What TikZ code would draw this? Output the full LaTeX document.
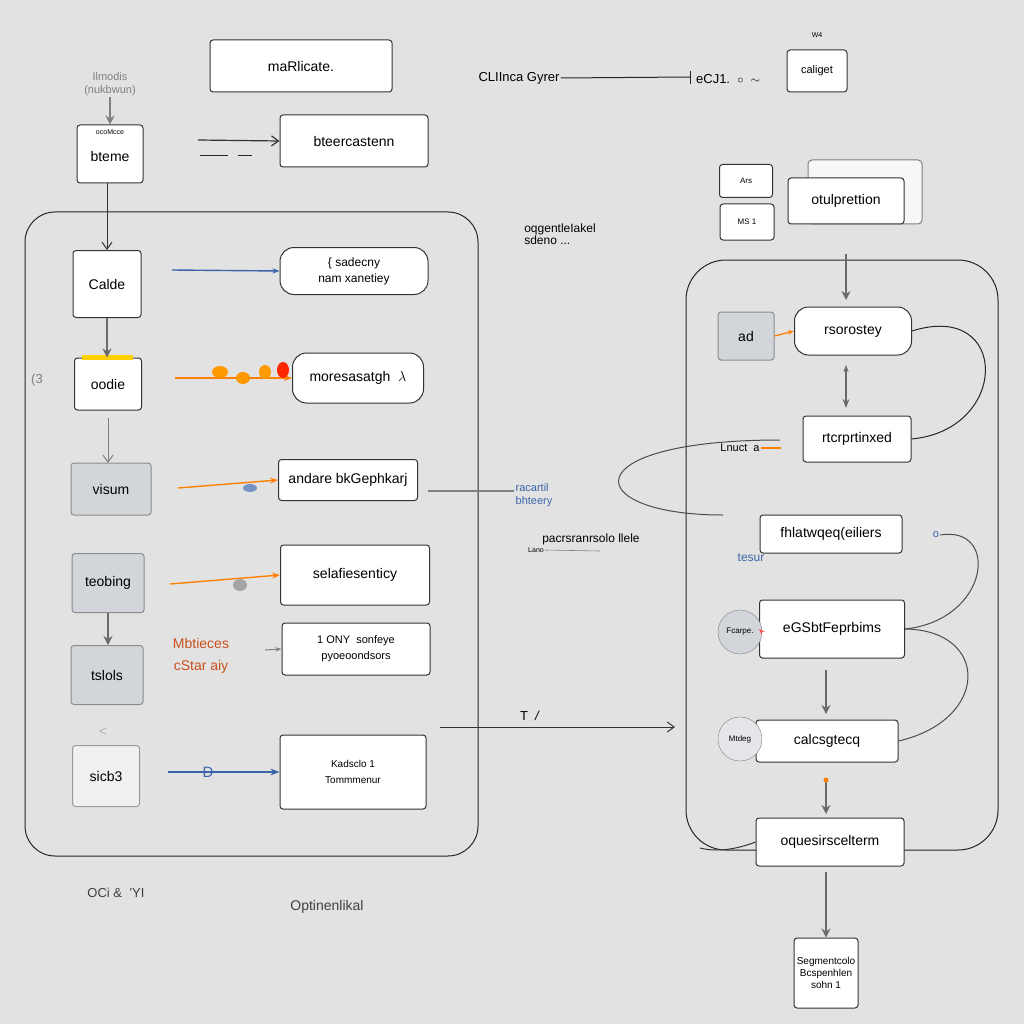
\documentclass[tikz,border=0pt]{standalone}
\usepackage{fontspec}
\setmainfont{Liberation Sans}
\usetikzlibrary{arrows.meta,shapes.geometric}
\definecolor{bg}{RGB}{226,226,226}
\definecolor{boxgray}{RGB}{210,214,219}
\definecolor{linegray}{RGB}{110,105,105}
\definecolor{blu}{RGB}{60,100,170}
\definecolor{orng}{RGB}{200,80,30}
\tikzset{
  box/.style={draw=black!80, fill=white, rounded corners=3pt, line width=1pt, font=\fontsize{14}{16}\selectfont, inner sep=2pt, align=center},
  pill/.style={box, rounded corners=14pt},
  gbox/.style={box, fill=boxgray, draw=black!45},
  arr/.style={-{Stealth[length=9pt,width=9pt]}, draw=linegray, line width=1.2pt},
  oarr/.style={-{Straight Barb[length=7pt,width=10pt]}, draw=black!80, line width=1pt},
  thin/.style={draw=black!85, line width=1pt},
  lbl/.style={font=\fontsize{13}{15}\selectfont, inner sep=1pt, align=center},
  slbl/.style={font=\fontsize{9}{11}\selectfont, inner sep=1pt, align=center},
}
\begin{document}
\begin{tikzpicture}[x=1pt,y=-1pt]
\fill[bg] (0,0) rectangle (1024,1024);
\useasboundingbox (0,0) rectangle (1024,1024);

% ---------- top left ----------
\node[slbl, text=gray, font=\fontsize{11}{13}\selectfont] (ilm) at (110,84) {Ilmodis\\(nukbwun)};
\node[box, minimum width=66, minimum height=58] (bteme) at (110,154) {};
\node[slbl, font=\fontsize{7}{8}\selectfont] (occ) at (110,132) {ocoMcce};
\node[lbl, font=\fontsize{14}{16}\selectfont] (btemet) at (110,156) {bteme};
\draw[arr, draw=gray] (ilm.south) -- (bteme.north);

\node[box, minimum width=182, minimum height=52] (marl) at (301,66) {maRlicate.};
\node[box, minimum width=148, minimum height=52] (btee) at (354,141) {bteercastenn};
\coordinate (sq1) at (198,140);
\draw[oarr, line width=1.2pt] (sq1) -- (btee.west);
\draw[thin] (200,156) -- (228,156) (238,156) -- (252,156);

% ---------- left container ----------
\draw[thin, rounded corners=30pt] (25,212) rectangle (478,856);

\node[box, minimum width=68, minimum height=67] (calde) at (107,284) {Calde};
\node[box, minimum width=67, minimum height=52] (oodie) at (108,384) {oodie};
\fill[yellow!70!orange] (oodie.north west) ++(8,-3) rectangle ++(51,5);
\node[gbox, minimum width=80, minimum height=52] (visum) at (111,489) {visum};
\node[gbox, minimum width=72, minimum height=59] (teob) at (108,583) {teobing};
\node[gbox, minimum width=72, minimum height=59] (tslols) at (107,675) {tslols};
\node[box, fill=gray!12, draw=black!40, minimum width=67, minimum height=61] (sicb) at (106,776) {sicb3};

\draw[oarr, draw=black!80] (bteme.south -| 107,0) -- (calde.north);
\draw[arr] (calde.south) -- (calde.south |- oodie.north);
\draw[oarr, draw=gray] (108,418) -- (108,463);
\draw[arr] (teob.south) -- (teob.south |- tslols.north);
\node[lbl, text=gray] (lt) at (103,731) {$<$};
\node[lbl, text=gray] (c3) at (37,380) {(3};

% ---------- middle left boxes ----------
\node[pill, minimum width=148, minimum height=47] (sad) at (354,271) {\fontsize{12}{13}\selectfont \{ sadecny\\ \fontsize{12}{13}\selectfont nam xanetiey};
\node[pill, minimum width=131, minimum height=50] (mor) at (358,378) {moresasatgh\ \ $\lambda$};
\node[box, minimum width=139, minimum height=41] (and) at (348,480) {andare bkGephkarj};
\node[box, minimum width=149, minimum height=60] (sel) at (355,575) {selafiesenticy};
\node[box, minimum width=148, minimum height=52] (ony) at (356,649) {\fontsize{11}{13}\selectfont 1 ONY\ \ sonfeye\\ \fontsize{11}{13}\selectfont pyoeoondsors};
\node[box, minimum width=146, minimum height=74] (kad) at (353,772) {\fontsize{10}{12}\selectfont Kadsclo 1\\ \fontsize{10}{12}\selectfont Tommmenur};

% scribbles / connectors into boxes
\coordinate (s1) at (172,270);
\draw[-{Stealth[length=7pt]}, draw=blu, line width=1.4pt] (s1) -- (sad.west);
\coordinate (s2) at (175,378);
\draw[-{Stealth[length=8pt]}, draw=orange, line width=1.6pt] (s2) -- (mor.west);
\fill[orange!80!yellow] (220,372) ellipse (8 and 6) (243,378) ellipse (7 and 6) (265,372) ellipse (6 and 7);
\fill[red!70!orange] (283,370) ellipse (6 and 8);
\coordinate (s3) at (178,488);
\draw[-{Stealth[length=8pt]}, draw=orange, line width=1.4pt] (s3) -- (and.west);
\fill[blu!70] (250,488) ellipse (7 and 4);
\coordinate (s4) at (170,584);
\draw[-{Stealth[length=8pt]}, draw=orange, line width=1.4pt] (s4) -- (sel.west);
\fill[gray!70] (240,585) ellipse (7 and 6);
\coordinate (s5) at (265,650);
\draw[-{Stealth[length=6pt]}, draw=gray, line width=1pt] (s5) -- (ony.west);
\coordinate (s6) at (168,772);
\draw[-{Stealth[length=9pt]}, draw=blu, line width=1.4pt] (s6) -- (kad.west);
\node[lbl, text=blu, font=\fontsize{15}{17}\selectfont] (dd) at (208,772) {D};

\node[lbl, text=orng, font=\fontsize{14}{16}\selectfont] (mbt) at (201,643) {Mbtieces};
\node[lbl, text=orng, font=\fontsize{14}{16}\selectfont] (csa) at (201,667) {cStar aiy};

% long arrow to right container
\coordinate (la) at (440,727);
\coordinate (rs1) at (675,727);
\draw[oarr] (la) -- (rs1);
\node[lbl] (tl) at (530,716) {T\ \ \textit{/}};

% middle labels
\node[lbl, align=left, font=\fontsize{12}{14}\selectfont] (oqg) at (560,234) {oqgentleIakel\\[-2pt]sdeno ...};
\node[lbl, text=blu, align=left, font=\fontsize{11}{13}\selectfont] (rac) at (534,495) {racartil\\bhteery};
\coordinate (racst) at (428,491);
\draw[draw=gray, line width=1.6pt] (racst) -- (rac.west |- racst);
\node[lbl, font=\fontsize{12}{14}\selectfont] (pac) at (591,539) {pacrsranrsolo llele};
\node[slbl, font=\fontsize{7}{8}\selectfont] (lano) at (536,550) {Lano};
\draw[gray, line width=0.6pt] (lano.east) -- (600,551);

\node[lbl, text=black!75, font=\fontsize{13}{15}\selectfont] (oci) at (116,893) {OCi \&\ \ 'YI};
\node[lbl, text=black!75, font=\fontsize{14}{16}\selectfont] (opt) at (327,907) {Optinenlikal};

% ---------- top right ----------
\node[lbl, font=\fontsize{13}{15}\selectfont] (clI) at (519,78) {CLIInca Gyrer};
\node[lbl, font=\fontsize{13}{15}\selectfont] (ecj) at (728,79) {eCJ1.\ \ $\circ$\ \ $\sim$};
\coordinate (cbar) at (690,77);
\draw[thin] (clI.east) -- (cbar);
\draw[thin] (690,71) -- (690,84);
\node[slbl, font=\fontsize{7}{8}\selectfont] (w4) at (817,35) {W4};
\node[box, minimum width=60, minimum height=42] (cal) at (817,71) {\fontsize{11}{13}\selectfont caliget};

\node[box, minimum width=53, minimum height=33] (ars) at (746,181) {\fontsize{8}{9}\selectfont Ars};
\node[box, minimum width=54, minimum height=36] (ms1) at (747,222) {\fontsize{8}{9}\selectfont MS 1};
\draw[draw=black!50, fill=gray!6, rounded corners=4pt, line width=1pt] (808,224) -- (808,160) -- (922,160) -- (922,224) -- cycle;
\node[box, minimum width=116, minimum height=46] (otu) at (846,201) {otulprettion};

% ---------- right container ----------
\draw[thin, rounded corners=40pt] (686,260) rectangle (998,850);

\node[gbox, minimum width=56, minimum height=48] (ad) at (746,336) {ad};
\node[pill, minimum width=117, minimum height=48] (rso) at (853,331) {rsorostey};
\node[box, minimum width=108, minimum height=46] (rtc) at (857,439) {rtcrprtinxed};
\node[box, minimum width=142, minimum height=38] (fhl) at (831,534) {fhlatwqeq(eiliers};
\node[box, minimum width=145, minimum height=58] (egs) at (832,629) {eGSbtFeprbims};
\node[circle, draw=black!50, fill=boxgray, minimum size=44, inner sep=0, font=\fontsize{8}{9}\selectfont] (fca) at (740,632) {Fcarpe.};
\node[box, minimum width=142, minimum height=42] (clc) at (827,741) {calcsgtecq};
\node[circle, draw=black!50, fill=boxgray!60, minimum size=44, inner sep=0, font=\fontsize{8}{9}\selectfont] (mtd) at (740,739) {Mtdeg};
\node[box, minimum width=148, minimum height=48] (oqu) at (830,842) {oquesirscelterm};
\node[box, minimum width=64, minimum height=70, font=\fontsize{10}{12}\selectfont] (seg) at (826,973) {Segmentcolo\\Bcspenhlen\\sohn 1};

\coordinate (top) at (846,254);
\coordinate (rsoarr) at (846,300);
\draw[arr] (top) -- (rsoarr);
\coordinate (d1a) at (846,365);
\coordinate (d1b) at (846,408);
\draw[arr, {Stealth[length=7pt]}-{Stealth[length=9pt]}] (d1a) -- (d1b);
\coordinate (d2a) at (826,670);
\coordinate (d2b) at (826,714);
\draw[arr] (d2a) -- (d2b);
\coordinate (d3a) at (826,778);
\coordinate (d3b) at (826,814);
\draw[arr] (d3a) -- (d3b);
\fill[orange] (826,780) circle (2.5);
\coordinate (d4a) at (826,872);
\draw[arr] (d4a) -- (seg.north);
\draw[-{Stealth[length=6pt]}, draw=orange, line width=1.3pt] (ad.east) -- (rso.west);

% curves
\draw[thin] (rso.east) .. controls (1010,300) and (1010,430) .. (rtc.east);
\coordinate (lp1) at (780,440);
\coordinate (lp2) at (723,515);
\draw[draw=black!70, line width=1pt] (lp1) .. controls (570,440) and (580,515) .. (lp2);
\node[lbl, font=\fontsize{11}{13}\selectfont] (lnu) at (740,448) {Lnuct\ \ a};
\draw[draw=orange, line width=1.2pt] (lnu.east) -- ++(20,0);
\node[lbl, text=blu, font=\fontsize{12}{14}\selectfont] (tes) at (751,558) {tesur};
\node[lbl, text=blu, font=\fontsize{11}{13}\selectfont] (oo) at (936,535) {o};
\draw[draw=black!70, line width=1pt] (oo.east) .. controls (1000,525) and (990,620) .. (egs.east);
\draw[draw=black!70, line width=1pt] (egs.east) .. controls (990,630) and (990,720) .. (clc.east);
\coordinate (rb) at (700,848);
\draw[draw=black!80, line width=1pt] (oqu.west) .. controls (735,850) and (715,852) .. (rb);
\draw[-{Stealth[length=6pt]}, draw=red!70, line width=1pt] (fca.east) -- (egs.west);
\end{tikzpicture}
\end{document}
